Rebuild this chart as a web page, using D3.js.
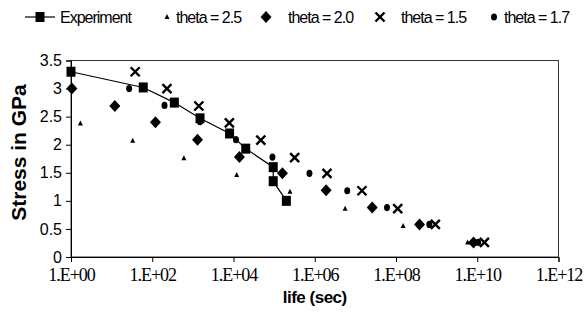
<!DOCTYPE html>
<html>
<head>
<meta charset="utf-8">
<script src="https://cdn.jsdelivr.net/npm/d3@7"></script>
<style>
body { margin: 0; background: #fff; }
svg { display: block; }
</style>
</head>
<body>
<svg id="chart"></svg>
<script>
// life in seconds, stress in GPa
var expLife = [1, 60, 350, 1500, 8000, 20000, 95000, 95000, 200000];
var expStress = [3.3, 3.02, 2.75, 2.47, 2.2, 1.93, 1.6, 1.35, 1.0];

var t25Life = [1.7, 33, 600, 12000, 245000, 5.6e6, 1.5e8, 5.8e9];
var t25Stress = [2.38, 2.07, 1.76, 1.46, 1.16, 0.86, 0.55, 0.26];

var t20Life = [1.05, 12, 120, 1300, 14000, 160000, 1.9e6, 2.6e7, 3.8e8, 8.1e9];
var t20Stress = [3.0, 2.69, 2.4, 2.09, 1.78, 1.49, 1.19, 0.88, 0.58, 0.26];

var t15Life = [38, 230, 1400, 7900, 47000, 320000, 2.0e6, 1.45e7, 1.1e8, 9.3e8, 1.5e10];
var t15Stress = [3.3, 3.0, 2.69, 2.39, 2.08, 1.77, 1.49, 1.18, 0.86, 0.58, 0.26];

var t17Life = [27, 200, 1500, 11500, 91000, 740000, 6.3e6, 6.0e7, 6.6e8, 1.05e10];
var t17Stress = [3.0, 2.7, 2.41, 2.09, 1.78, 1.49, 1.18, 0.88, 0.58, 0.26];

var xTicks = [1e0, 1e2, 1e4, 1e6, 1e8, 1e10, 1e12];
var xTickLabels = ["1.E+00", "1.E+02", "1.E+04", "1.E+06", "1.E+08", "1.E+10", "1.E+12"];
var yTicks = [0, 0.5, 1, 1.5, 2, 2.5, 3, 3.5];
var yTickLabels = ["0", "0.5", "1", "1.5", "2", "2.5", "3", "3.5"];

var legendLabels = ["Experiment", "theta = 2.5", "theta = 2.0", "theta = 1.5", "theta = 1.7"];

var zip = function(xs, ys) {
    return xs.map(function(x, i) { return {life: x, stress: ys[i]}; });
};

var width = 587, height = 329;
// plot area edges (named so they don't clash with window.top)
var plotL = 71, plotR = 558.5, plotT = 60.5, plotB = 257;

var svg = d3.select("#chart")
    .attr("width", width)
    .attr("height", height);

var xScale = d3.scaleLog()
    .domain([1, 1e12])
    .range([plotL, plotR]);
var yScale = d3.scaleLinear()
    .domain([0, 3.5])
    .range([plotB, plotT]);

// plot frame
svg.append("rect")
    .attr("x", plotL).attr("y", plotT)
    .attr("width", plotR - plotL).attr("height", plotB - plotT)
    .attr("fill", "none")
    .attr("stroke", "#333")
    .attr("stroke-width", 1);

var xAxis = d3.axisBottom(xScale)
    .tickValues(xTicks)
    .tickSize(5)
    .tickFormat(function(d, i) { return xTickLabels[i]; });
var gx = svg.append("g")
    .attr("transform", "translate(0," + plotB + ")")
    .call(xAxis);
gx.select(".domain").attr("stroke", "#000");
gx.selectAll("text")
    .attr("dy", 0)
    .attr("y", 24)
    .style("font-family", "'Liberation Serif', 'Times New Roman', serif")
    .style("font-size", "18px")
    .style("letter-spacing", "-1px")
    .attr("fill", "#000");

var yAxis = d3.axisLeft(yScale)
    .tickValues(yTicks)
    .tickSize(5)
    .tickFormat(function(d, i) { return yTickLabels[i]; });
var gy = svg.append("g")
    .attr("transform", "translate(" + plotL + ",0)")
    .call(yAxis);
gy.select(".domain").attr("stroke", "#000");
gy.selectAll("text")
    .attr("x", -9)
    .style("font-family", "'Liberation Sans', Arial, sans-serif")
    .style("font-size", "16px")
    .attr("fill", "#000");

// axis titles
svg.append("text")
    .attr("x", (plotL + plotR) / 2)
    .attr("y", 303)
    .attr("text-anchor", "middle")
    .style("font-family", "'Liberation Sans', Arial, sans-serif")
    .style("font-weight", "bold")
    .style("font-size", "17px")
    .style("letter-spacing", "-0.5px")
    .text("life (sec)");

svg.append("text")
    .attr("transform", "translate(26,152.5) rotate(-90)")
    .attr("text-anchor", "middle")
    .style("font-family", "'Liberation Sans', Arial, sans-serif")
    .style("font-weight", "bold")
    .style("font-size", "21px")
    .text("Stress in GPa");

// marker drawing helpers
var drawSquare = function(g, x, y) {
    g.append("rect").attr("x", x - 4.5).attr("y", y - 5).attr("width", 9).attr("height", 10).attr("fill", "#000");
};
var drawTriangle = function(g, x, y) {
    g.append("path").attr("d", "M" + x + "," + (y - 3) + "L" + (x + 2.5) + "," + (y + 2) + "L" + (x - 2.5) + "," + (y + 2) + "Z").attr("fill", "#000");
};
var drawDiamond = function(g, x, y) {
    g.append("path").attr("d", "M" + x + "," + (y - 6) + "L" + (x + 5.5) + "," + y + "L" + x + "," + (y + 6) + "L" + (x - 5.5) + "," + y + "Z").attr("fill", "#000");
};
var drawCross = function(g, x, y) {
    g.append("path").attr("d", "M" + (x - 4.5) + "," + (y - 4.5) + "L" + (x + 4.5) + "," + (y + 4.5) + "M" + (x + 4.5) + "," + (y - 4.5) + "L" + (x - 4.5) + "," + (y + 4.5))
        .attr("stroke", "#000").attr("stroke-width", 2.4).attr("fill", "none");
};
var drawDot = function(g, x, y) {
    g.append("ellipse").attr("cx", x).attr("cy", y).attr("rx", 3).attr("ry", 3.6).attr("fill", "#000");
};

var series = [
    {data: zip(t25Life, t25Stress), mark: drawTriangle},
    {data: zip(t20Life, t20Stress), mark: drawDiamond},
    {data: zip(t17Life, t17Stress), mark: drawDot},
    {data: zip(t15Life, t15Stress), mark: drawCross}
];

var marks = svg.append("g");
series.forEach(function(s) {
    s.data.forEach(function(d) {
        s.mark(marks, xScale(d.life), yScale(d.stress));
    });
});

// experiment line with squares
var expData = zip(expLife, expStress);
var linegen = d3.line()
    .x(function(d) { return xScale(d.life); })
    .y(function(d) { return yScale(d.stress); });
marks.append("path")
    .datum(expData)
    .attr("d", linegen)
    .attr("fill", "none")
    .attr("stroke", "#000")
    .attr("stroke-width", 1.2);
expData.forEach(function(d) {
    drawSquare(marks, xScale(d.life), yScale(d.stress));
});

// legend
var legY = 17;
var legend = svg.append("g")
    .style("font-family", "'Liberation Sans', Arial, sans-serif")
    .style("font-size", "16px")
    .style("letter-spacing", "-1px");
legend.append("line").attr("x1", 25).attr("x2", 55).attr("y1", legY).attr("y2", legY).attr("stroke", "#000").attr("stroke-width", 1.2);
drawSquare(legend, 40, legY);
drawTriangle(legend, 167, legY);
drawDiamond(legend, 266, legY);
drawCross(legend, 380, legY);
drawDot(legend, 494, legY);
var legTextX = [60, 176, 288, 401, 504];
legendLabels.forEach(function(t, i) {
    legend.append("text")
        .attr("x", legTextX[i])
        .attr("y", legY + 6)
        .text(t);
});
</script>
</body>
</html>
